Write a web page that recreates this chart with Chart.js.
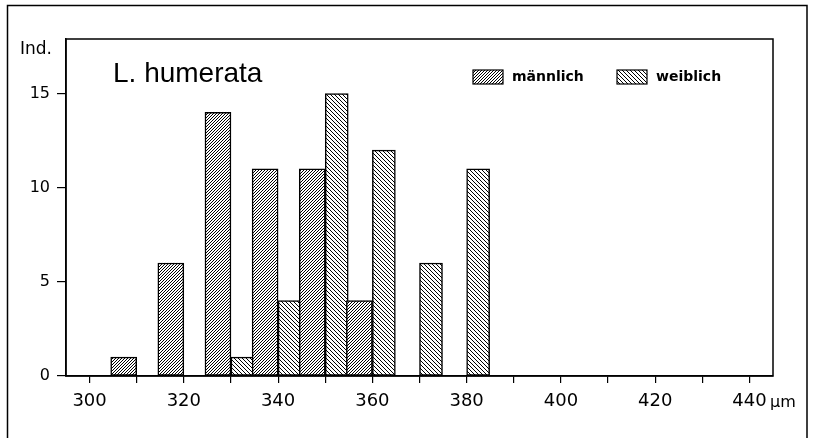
<!DOCTYPE html>
<html>
<head>
<meta charset="utf-8">
<script src="https://cdn.jsdelivr.net/npm/chart.js@4/dist/chart.umd.min.js"></script>
<style>
  html, body { margin: 0; padding: 0; background: #fff; }
</style>
</head>
<body>
<canvas id="cHist" width="813" height="438"></canvas>
<script>
// ── Datos ─────────────────────────────────────────────
const binCenters   = [310, 320, 330, 340, 350, 360, 370, 380];
const maleCounts   = [1, 6, 14, 11, 11, 4, 0, 0];
const femaleCounts = [0, 0, 1, 4, 15, 12, 6, 11];
const xTicks       = [300, 310, 320, 330, 340, 350, 360, 370, 380, 390, 400, 410, 420, 430, 440];
const yTicks       = [0, 5, 10, 15];
const seriesNames  = ['männlich', 'weiblich'];
const titleText    = 'L. humerata';
const yUnit        = 'Ind.';
const xUnit        = 'µm';

// ── Rayado de las barras ──────────────────────────────
function hatch(step, dir, lw) {
  const c = document.createElement('canvas');
  c.width = c.height = step;
  const g = c.getContext('2d');
  g.fillStyle = '#fff';
  g.fillRect(0, 0, step, step);
  g.strokeStyle = '#000';
  g.lineWidth = lw;
  g.beginPath();
  if (dir > 0) {
    g.moveTo(0, step); g.lineTo(step, 0);
    g.moveTo(-step / 2, step / 2); g.lineTo(step / 2, -step / 2);
    g.moveTo(step / 2, step * 1.5); g.lineTo(step * 1.5, step / 2);
  } else {
    g.moveTo(0, 0); g.lineTo(step, step);
    g.moveTo(-step / 2, step / 2); g.lineTo(step / 2, step * 1.5);
    g.moveTo(step / 2, -step / 2); g.lineTo(step * 1.5, step / 2);
  }
  g.stroke();
  return g.createPattern(c, 'repeat');
}
const maleFill   = hatch(3, 1, 1);
const femaleFill = hatch(4, -1, 1);

// ── Marco, titulo y leyenda ───────────────────────────
const extras = {
  id: 'extras',
  afterDraw(chart) {
    const { ctx, chartArea: a } = chart;
    ctx.save();
    ctx.strokeStyle = '#000';
    ctx.lineWidth = 1.5;
    ctx.beginPath();
    ctx.moveTo(7.5, 440); ctx.lineTo(7.5, 5.5); ctx.lineTo(807, 5.5); ctx.lineTo(807, 440);
    ctx.stroke();
    ctx.strokeRect(a.left, a.top, a.right - a.left, a.bottom - a.top);

    ctx.fillStyle = '#000';
    ctx.textBaseline = 'middle';
    ctx.font = '17px "DejaVu Sans"';
    ctx.fillText(yUnit, 20, 50);
    ctx.font = '16px "DejaVu Sans"';
    ctx.fillText(xUnit, 770, 403);

    ctx.textBaseline = 'alphabetic';
    ctx.font = '28px "Liberation Sans"';
    ctx.fillText(titleText, 113, 82);

    const fills = [maleFill, femaleFill];
    const boxX = [473, 617];
    ctx.font = 'bold 14px "DejaVu Sans"';
    ctx.textBaseline = 'middle';
    seriesNames.forEach((name, i) => {
      ctx.fillStyle = fills[i];
      ctx.fillRect(boxX[i], 70, 30, 14);
      ctx.lineWidth = 1.2;
      ctx.strokeRect(boxX[i], 70, 30, 14);
      ctx.fillStyle = '#000';
      ctx.fillText(name, boxX[i] + 39, 77);
    });
    ctx.restore();
  }
};

// ── Grafico ───────────────────────────────────────────
new Chart(document.getElementById('cHist'), {
  type: 'bar',
  data: {
    datasets: [
      {
        label: seriesNames[0],
        data: binCenters.map((x, i) => ({ x, y: maleCounts[i] })),
        backgroundColor: maleFill, borderColor: '#000', borderWidth: 1.5,
        borderSkipped: false, barThickness: 26,
      },
      {
        label: seriesNames[1],
        data: binCenters.map((x, i) => ({ x, y: femaleCounts[i] })),
        backgroundColor: femaleFill, borderColor: '#000', borderWidth: 1.5,
        borderSkipped: false, barThickness: 23,
      },
    ],
  },
  options: {
    responsive: false, animation: false, devicePixelRatio: 1,
    layout: { padding: { left: 0, top: 39, right: 40, bottom: 0 } },
    plugins: { legend: { display: false }, tooltip: { enabled: false } },
    scales: {
      x: {
        type: 'linear', min: 295, max: 445, offset: false,
        afterBuildTicks: s => { s.ticks = xTicks.map(v => ({ value: v })); },
        afterFit: s => { s.height = 62; },
        grid: { offset: false, drawOnChartArea: false, drawTicks: true, tickLength: 7, color: '#000', lineWidth: 1.2 },
        border: { color: '#000', width: 1.5 },
        ticks: {
          autoSkip: false, maxRotation: 0, padding: 8, color: '#000',
          font: { family: 'DejaVu Sans', size: 18 },
          callback: v => (v % 20 === 0 ? String(v) : ''),
        },
      },
      y: {
        min: 0, max: 17.9,
        afterBuildTicks: s => { s.ticks = yTicks.map(v => ({ value: v })); },
        afterFit: s => { s.width = 66; },
        grid: { drawOnChartArea: false, drawTicks: true, tickLength: 9, color: '#000', lineWidth: 1.2 },
        border: { color: '#000', width: 1.5 },
        ticks: {
          padding: 7, color: '#000',
          font: { family: 'DejaVu Sans', size: 16 },
        },
      },
    },
  },
  plugins: [extras],
});
</script>
</body>
</html>
